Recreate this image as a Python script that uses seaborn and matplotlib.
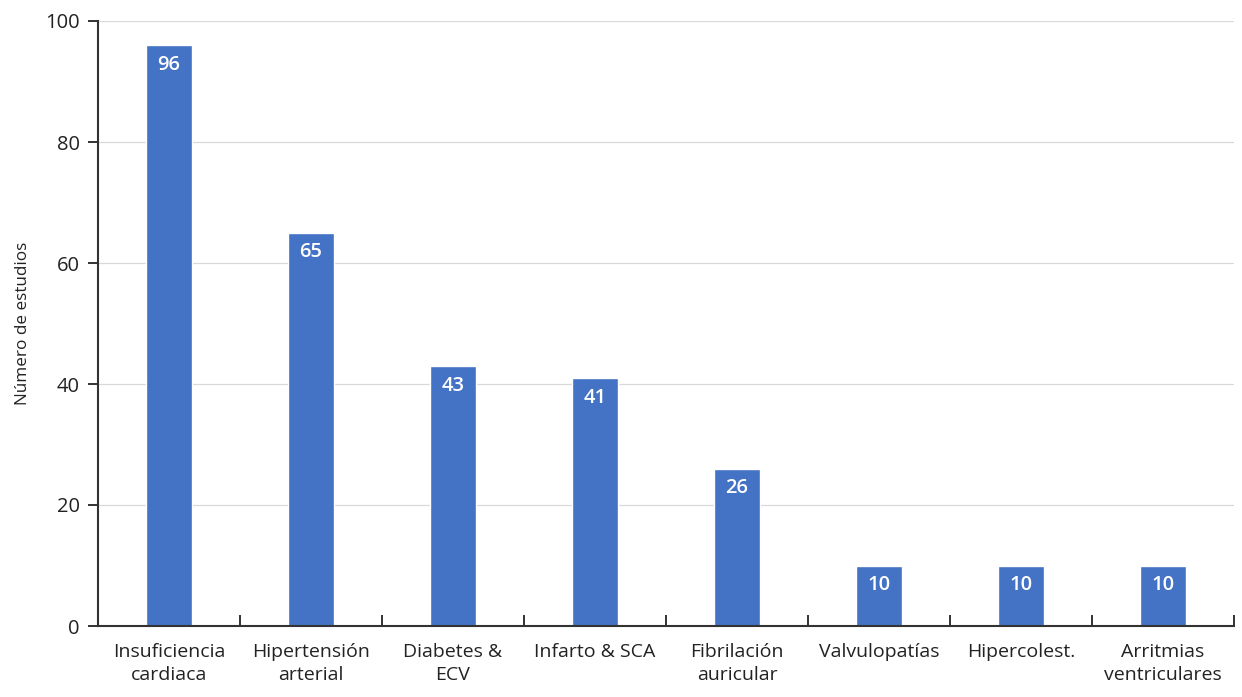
import matplotlib
matplotlib.use("Agg")
import matplotlib.pyplot as plt
import seaborn as sns
import pandas as pd
import numpy as np

categories = ["Insuficiencia\ncardiaca", "Hipertensión\narterial", "Diabetes &\nECV",
              "Infarto & SCA", "Fibrilación\nauricular", "Valvulopatías",
              "Hipercolest.", "Arritmias\nventriculares"]
values = [96, 65, 43, 41, 26, 10, 10, 10]
y_ticks = [0, 20, 40, 60, 80, 100]

sns.set_theme(style="white")
plt.rcParams['font.family'] = ['Open Sans', 'DejaVu Sans']
plt.rcParams['xtick.direction'] = 'in'
plt.rcParams['ytick.direction'] = 'out'

df = pd.DataFrame({"cat": categories, "val": values})

fig = plt.figure(figsize=(12.42, 6.97), dpi=100)
ax = fig.add_axes([98/1242, 1-626/697, (1234-98)/1242, (626-21)/697])

sns.barplot(data=df, x="cat", y="val", color="#4472C4", saturation=1, width=0.32, ax=ax)

ax.set_xlim(-0.5, len(categories)-0.5)
ax.set_ylim(0, 100)
ax.set_yticks(y_ticks)
ax.set_yticklabels([str(t) for t in y_ticks], fontsize=14.5, color="#222222")
ax.yaxis.grid(True, color="#d9d9d9", linewidth=0.9)
ax.set_axisbelow(True)

ax.set_xlabel("")
ax.set_ylabel("Número de estudios", fontsize=12.3, color="#222222", labelpad=10)
ax.set_xticks(range(len(categories)))
ax.set_xticklabels(categories, fontsize=14, color="#222222", linespacing=1.35)
ax.tick_params(axis="x", which="major", bottom=False, length=0, pad=12)
ax.set_xticks(np.arange(-0.5, len(categories)), minor=True)
ax.xaxis.set_tick_params(which="minor", bottom=True, direction="in", length=8, width=1.4, color="#333333")
ax.tick_params(axis="y", which="major", left=True, direction="out", length=7, width=1.4, color="#333333", pad=6)

for s in ["top", "right"]:
    ax.spines[s].set_visible(False)
for s in ["left", "bottom"]:
    ax.spines[s].set_color("#333333")
    ax.spines[s].set_linewidth(1.5)

for i, v in enumerate(values):
    ax.text(i, v - 1.6, str(v), ha="center", va="top", color="white",
            fontsize=14.5, fontweight="semibold")

fig.savefig("out.png", dpi=100)
